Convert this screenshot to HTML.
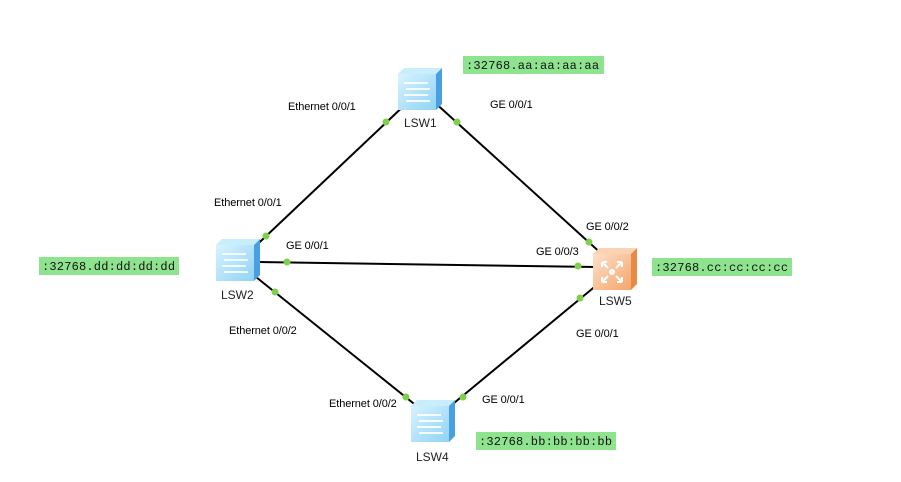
<!DOCTYPE html>
<html><head><meta charset="utf-8"><style>
html,body{margin:0;padding:0;background:#fff;}
svg{display:block;}
.l{font-family:"Liberation Sans",sans-serif;font-size:11px;fill:#000;letter-spacing:-0.1px;}
.n{font-family:"Liberation Sans",sans-serif;font-size:12px;fill:#222;}
.m{font-family:"Liberation Mono",monospace;font-size:12px;fill:#111;letter-spacing:0.2px;}
</style></head><body>
<svg width="901" height="482" viewBox="0 0 901 482" xmlns="http://www.w3.org/2000/svg">
<defs>
<linearGradient id="bf" x1="0" y1="0" x2="1" y2="1"><stop offset="0" stop-color="#d8f3ff"/><stop offset="1" stop-color="#8fd3f5"/></linearGradient>
<linearGradient id="of" x1="0" y1="0" x2="1" y2="1"><stop offset="0" stop-color="#fde0c8"/><stop offset="1" stop-color="#f5a56a"/></linearGradient>
<g id="sw">
<polygon points="0,6 6,0 44,0 38,6" fill="#c8eefc"/>
<polygon points="38,6 44,0 44,36 38,42" fill="#4a9fe0"/>
<rect x="0" y="6" width="38" height="36" fill="url(#bf)"/>
<path d="M6,15 H30 M8,21 H32 M6,27 H30 M8,33 H32" stroke="#fff" stroke-width="2" opacity="0.85" fill="none"/>
</g>
<g id="rt">
<polygon points="0,6 6,0 44,0 38,6" fill="#fbd3b3"/>
<polygon points="38,6 44,0 44,36 38,42" fill="#e88a45"/>
<rect x="0" y="6" width="38" height="36" fill="url(#of)"/>
<circle cx="19" cy="24" r="3" fill="#fff"/>
<path d="M9,14 L15,20 M29,14 L23,20 M9,34 L15,28 M29,34 L23,28 M9,14 v5 M9,14 h5 M29,14 v5 M29,14 h-5 M9,34 v-5 M9,34 h5 M29,34 v-5 M29,34 h-5" stroke="#fff" stroke-width="2" fill="none"/>
</g>
</defs>
<g stroke="#000" stroke-width="2">
<line x1="410" y1="100" x2="244" y2="257"/>
<line x1="432" y1="100" x2="604" y2="256"/>
<line x1="258" y1="262" x2="596" y2="267"/>
<line x1="256" y1="277" x2="418" y2="407"/>
<line x1="598" y1="284" x2="448" y2="408"/>
</g>
<g fill="#7ed04b">
<circle cx="386" cy="122" r="3.5"/><circle cx="266" cy="236" r="3.5"/>
<circle cx="457" cy="122" r="3.5"/><circle cx="589" cy="242" r="3.5"/>
<circle cx="287" cy="262" r="3.5"/><circle cx="578" cy="266" r="3.5"/>
<circle cx="275" cy="292" r="3.5"/><circle cx="406" cy="397" r="3.5"/>
<circle cx="580" cy="298" r="3.5"/><circle cx="463" cy="397" r="3.5"/>
</g>
<use href="#sw" x="398" y="68"/>
<use href="#sw" x="216" y="239"/>
<use href="#sw" x="411" y="400"/>
<use href="#rt" x="593" y="248"/>
<text class="n" x="404" y="127">LSW1</text>
<text class="n" x="221" y="299">LSW2</text>
<text class="n" x="416" y="461">LSW4</text>
<text class="n" x="599" y="305">LSW5</text>
<text class="l" x="288" y="110">Ethernet 0/0/1</text>
<text class="l" x="490" y="108">GE 0/0/1</text>
<text class="l" x="214" y="206">Ethernet 0/0/1</text>
<text class="l" x="286" y="249">GE 0/0/1</text>
<text class="l" x="586" y="230">GE 0/0/2</text>
<text class="l" x="536" y="255">GE 0/0/3</text>
<text class="l" x="229" y="334">Ethernet 0/0/2</text>
<text class="l" x="576" y="337">GE 0/0/1</text>
<text class="l" x="329" y="407">Ethernet 0/0/2</text>
<text class="l" x="482" y="403">GE 0/0/1</text>
<rect x="463" y="56" width="141" height="18" fill="#8ee48e"/>
<text class="m" x="466" y="69">:32768.aa:aa:aa:aa</text>
<rect x="39" y="257" width="140" height="18" fill="#8ee48e"/>
<text class="m" x="42" y="270">:32768.dd:dd:dd:dd</text>
<rect x="652" y="258" width="140" height="18" fill="#8ee48e"/>
<text class="m" x="655" y="271">:32768.cc:cc:cc:cc</text>
<rect x="476" y="432" width="140" height="18" fill="#8ee48e"/>
<text class="m" x="479" y="445">:32768.bb:bb:bb:bb</text>
</svg>
</body></html>
